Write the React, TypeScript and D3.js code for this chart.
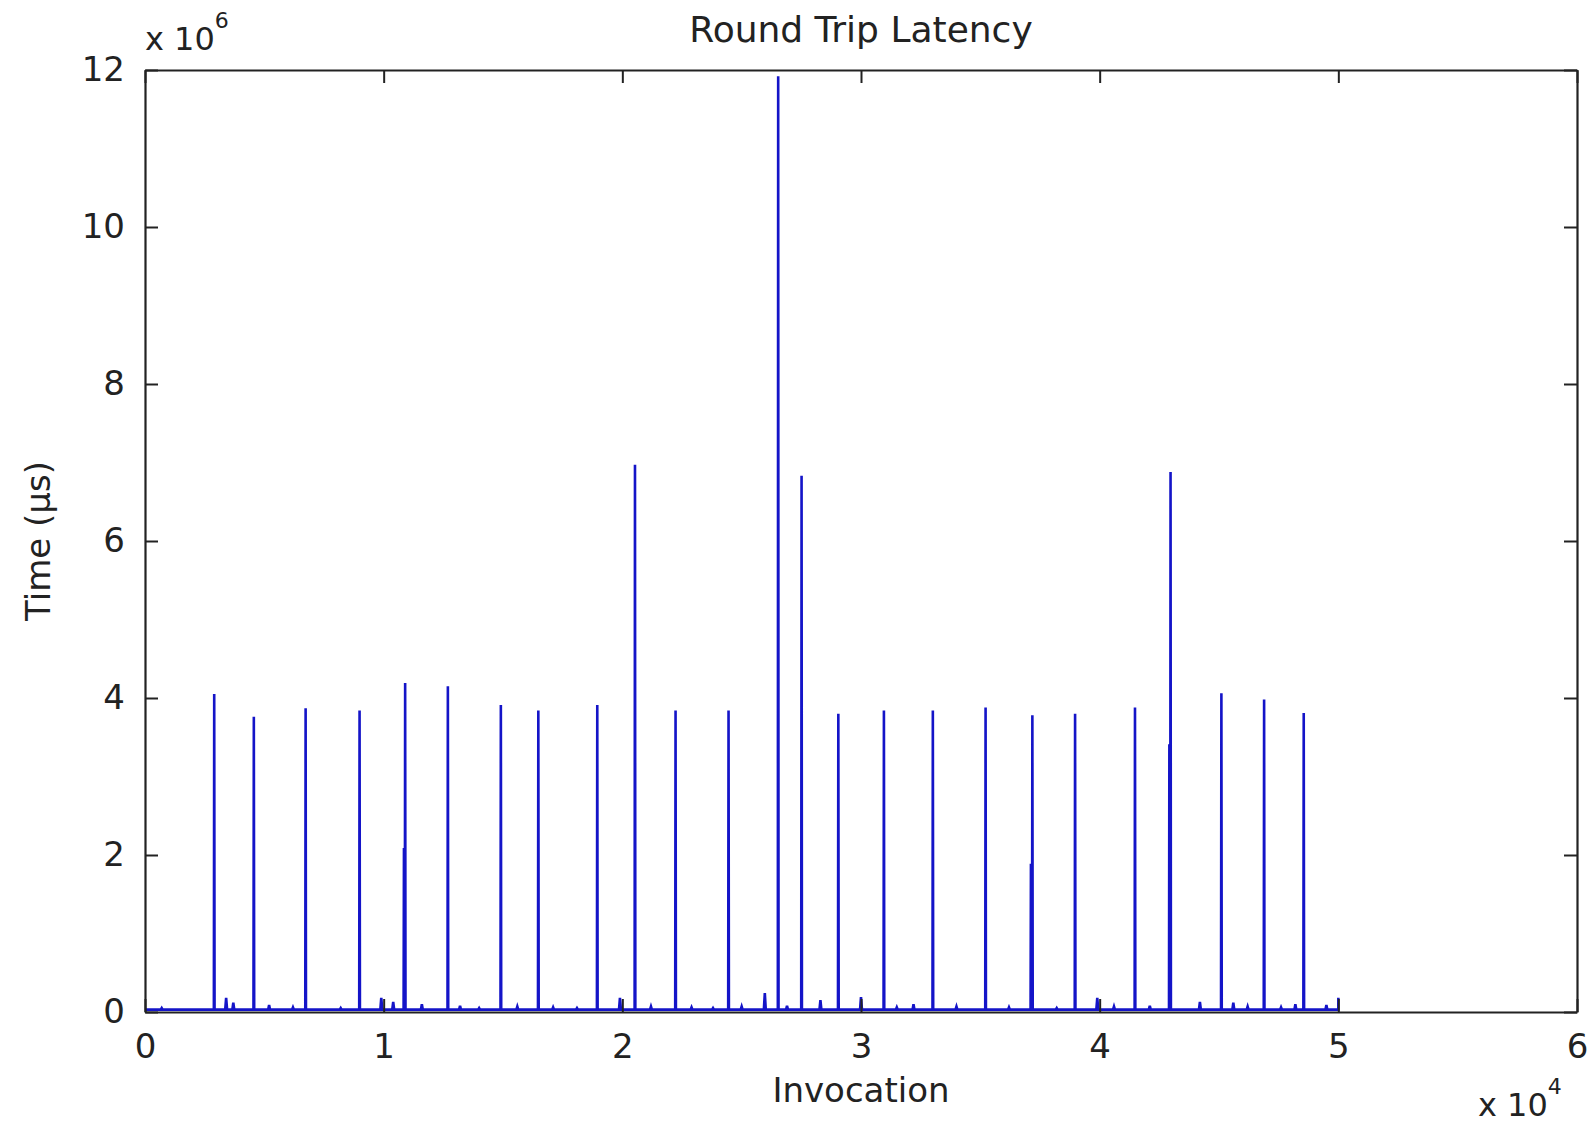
import React, { useRef, useEffect } from 'react';
import * as d3 from 'd3';

// Spikes (invocation index, latency in µs)
const spikeX = [2900, 4560, 6730, 8990, 10900, 12690, 14910, 16480, 18950, 20530, 22230, 24450, 26530, 27510, 29050, 30960, 33010, 35220, 37180, 38970, 41480, 42970, 45100, 46890, 48550];
const spikePeak = [4.05e6, 3.76e6, 3.87e6, 3.84e6, 4.19e6, 4.15e6, 3.91e6, 3.84e6, 3.91e6, 6.97e6, 3.84e6, 3.84e6, 11.92e6, 6.83e6, 3.8e6, 3.84e6, 3.84e6, 3.88e6, 3.78e6, 3.8e6, 3.88e6, 6.88e6, 4.06e6, 3.98e6, 3.81e6];

// Secondary spikes sitting beside the main ones
const subSpikeX = [10850, 37120, 42920];
const subSpikePeak = [2.09e6, 1.89e6, 3.41e6];

// Small bumps along the floor
const bumpX = [700, 3400, 3700, 5200, 6200, 8200, 9900, 10400, 11600, 13200, 14000, 15600, 17100, 18100, 19900, 21200, 22900, 23800, 25000, 25970, 26900, 28300, 30000, 31500, 32200, 34000, 36200, 38200, 39900, 40600, 42100, 44200, 45600, 46200, 47600, 48200, 49500, 50000];
const bumpY = [0.05e6, 0.18e6, 0.12e6, 0.09e6, 0.06e6, 0.05e6, 0.18e6, 0.13e6, 0.1e6, 0.08e6, 0.05e6, 0.07e6, 0.06e6, 0.05e6, 0.18e6, 0.07e6, 0.06e6, 0.05e6, 0.07e6, 0.24e6, 0.08e6, 0.15e6, 0.19e6, 0.06e6, 0.1e6, 0.07e6, 0.06e6, 0.05e6, 0.18e6, 0.07e6, 0.08e6, 0.13e6, 0.12e6, 0.07e6, 0.06e6, 0.1e6, 0.09e6, 0.18e6];

const floorY = 0.03e6;
const xTicks = [0, 10000, 20000, 30000, 40000, 50000, 60000];
const yTicks = [0, 2e6, 4e6, 6e6, 8e6, 10e6, 12e6];

const W = 1593;
const H = 1128;
const margin = { top: 70, right: 16, bottom: 116, left: 145 };
const FONT = '"DejaVu Sans", "Liberation Sans", sans-serif';

const App = () => {
  const svgRef = useRef<SVGSVGElement>(null);

  useEffect(() => {
    const svg = d3.select(svgRef.current);
    svg.selectAll('*').remove();

    const width = W - margin.left - margin.right;
    const height = H - margin.top - margin.bottom;

    const x = d3.scaleLinear().domain([0, 60000]).range([0, width]);
    const y = d3.scaleLinear().domain([0, 12e6]).range([height, 0]);

    const g = svg.append('g').attr('transform', `translate(${margin.left},${margin.top})`);

    // build the trace: floor, bumps and spikes
    const pts: [number, number][] = [[0, floorY], [50000, floorY]];
    spikeX.forEach((sx, i) => {
      pts.push([sx - 15, floorY], [sx, spikePeak[i]], [sx + 15, floorY]);
    });
    subSpikeX.forEach((sx, i) => {
      pts.push([sx - 15, floorY], [sx, subSpikePeak[i]], [sx + 15, floorY]);
    });
    bumpX.forEach((bx, i) => {
      const hi = Math.min(bx + 40, 50000);
      pts.push([bx - 40, floorY], [bx, bumpY[i]], [hi, bx + 40 > 50000 ? bumpY[i] : floorY]);
    });
    pts.sort((a, b) => a[0] - b[0]);

    const line = d3.line<[number, number]>()
      .x(d => x(d[0]))
      .y(d => y(d[1]));

    g.append('path')
      .datum(pts)
      .attr('fill', 'none')
      .attr('stroke', '#1414c8')
      .attr('stroke-width', 2.6)
      .attr('stroke-linejoin', 'miter')
      .attr('d', line);

    // axes with inward ticks on all four sides
    const tick = 13;
    const bottom = g.append('g').attr('transform', `translate(0,${height})`)
      .call(d3.axisBottom(x).tickValues(xTicks).tickSizeInner(-tick).tickSizeOuter(0).tickPadding(22).tickFormat(d => d3.format('d')(+d / 1e4)));
    const left = g.append('g')
      .call(d3.axisLeft(y).tickValues(yTicks).tickSizeInner(-tick).tickSizeOuter(0).tickPadding(20).tickFormat(d => d3.format('d')(+d / 1e6)));
    const top = g.append('g')
      .call(d3.axisTop(x).tickValues(xTicks).tickSizeInner(-tick).tickSizeOuter(0).tickFormat(() => ''));
    const right = g.append('g').attr('transform', `translate(${width},0)`)
      .call(d3.axisRight(y).tickValues(yTicks).tickSizeInner(-tick).tickSizeOuter(0).tickFormat(() => ''));

    [bottom, left, top, right].forEach(a => {
      a.select('.domain').attr('stroke', '#222').attr('stroke-width', 2.2);
      a.selectAll('.tick line').attr('stroke', '#222').attr('stroke-width', 2);
      a.selectAll('.tick text')
        .attr('fill', '#222')
        .style('font-family', FONT)
        .style('font-size', '34px');
    });

    // title
    svg.append('text')
      .attr('x', margin.left + width / 2)
      .attr('y', 42)
      .attr('text-anchor', 'middle')
      .attr('fill', '#222')
      .style('font-family', FONT)
      .style('font-size', '36px')
      .text('Round Trip Latency');

    // y exponent
    const yExp = svg.append('text')
      .attr('x', 145)
      .attr('y', 50)
      .attr('fill', '#222')
      .style('font-family', FONT)
      .style('font-size', '32px');
    yExp.append('tspan').text('x 10');
    yExp.append('tspan').attr('dy', -22).style('font-size', '22px').text('6');

    // x exponent
    const xExp = svg.append('text')
      .attr('x', 1478)
      .attr('y', 1116)
      .attr('fill', '#222')
      .style('font-family', FONT)
      .style('font-size', '32px');
    xExp.append('tspan').text('x 10');
    xExp.append('tspan').attr('dy', -22).style('font-size', '22px').text('4');

    // axis labels
    svg.append('text')
      .attr('x', margin.left + width / 2)
      .attr('y', 1102)
      .attr('text-anchor', 'middle')
      .attr('fill', '#222')
      .style('font-family', FONT)
      .style('font-size', '34px')
      .text('Invocation');

    svg.append('text')
      .attr('transform', `translate(50,${margin.top + height / 2}) rotate(-90)`)
      .attr('text-anchor', 'middle')
      .attr('fill', '#222')
      .style('font-family', FONT)
      .style('font-size', '34px')
      .text('Time (μs)');
  }, []);

  return (
    <svg
      ref={svgRef}
      width={W}
      height={H}
      style={{ position: 'absolute', left: 0, top: 0, background: '#fff' }}
    />
  );
};

export default App;
